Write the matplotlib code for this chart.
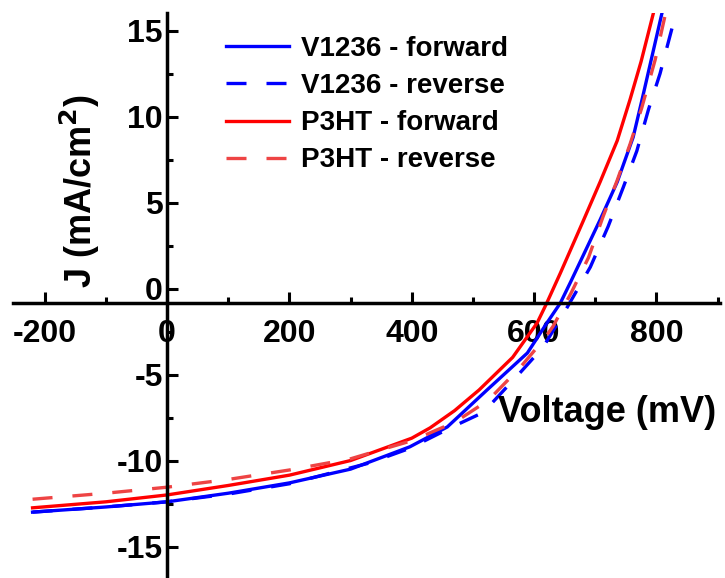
import matplotlib.pyplot as plt
from matplotlib.ticker import MultipleLocator
import numpy as np

plt.rcParams['font.family'] = ['Liberation Sans', 'DejaVu Sans']
plt.rcParams['font.weight'] = 'bold'
plt.rcParams['axes.unicode_minus'] = False

# valores (mV, mA/cm2)
v_v1236_fwd = [-220, -100, 0, 100, 200, 300, 397, 458, 523, 589, 621, 643, 660, 708, 736, 762, 776, 809]
j_v1236_fwd = [-13.0, -12.7, -12.4, -11.9, -11.3, -10.5, -9.2, -8.05, -5.9, -3.75, -2.0, -0.84, 0.4, 4.0, 6.2, 8.8, 10.9, 16.0]

v_v1236_rev = [-220, -100, 0, 100, 200, 330, 396, 466, 517, 577, 615, 654, 692, 721, 746, 768, 787, 806, 826, 832]
j_v1236_rev = [-13.0, -12.7, -12.4, -11.95, -11.35, -10.15, -9.3, -8.05, -7.2, -4.9, -3.4, -1.1, 1.25, 3.6, 5.9, 8.0, 10.4, 12.5, 15.2, 16.0]

v_p3ht_fwd = [-220, -100, 0, 100, 200, 300, 400, 430, 470, 510, 565, 605, 620, 643, 680, 708, 736, 757, 775, 795]
j_p3ht_fwd = [-12.75, -12.4, -12.0, -11.45, -10.85, -10.0, -8.7, -8.1, -7.1, -5.9, -4.0, -2.0, -0.9, 0.9, 3.9, 6.2, 8.6, 11.0, 13.2, 16.0]

v_p3ht_rev = [-220, -100, 0, 100, 200, 300, 347, 400, 471, 525, 577, 615, 631, 660, 689, 713, 736, 757, 776, 798, 815]
j_p3ht_rev = [-12.25, -11.9, -11.55, -11.1, -10.55, -9.9, -9.4, -8.85, -7.76, -6.5, -4.6, -3.0, -2.2, -0.3, 1.8, 4.2, 6.3, 8.4, 10.5, 13.3, 16.0]

fig = plt.figure(figsize=(7.25, 5.78), dpi=100)
ax = fig.add_axes([13/725, 0, 707/725, 565/578])

lw = 2.4
ax.plot(v_v1236_fwd, j_v1236_fwd, color='#0000FF', linewidth=lw, label='V1236 - forward')
ax.plot(v_v1236_rev, j_v1236_rev, color='#0000FF', linewidth=lw, dashes=(6, 6), label='V1236 - reverse')
ax.plot(v_p3ht_fwd, j_p3ht_fwd, color='#FF0000', linewidth=lw, label='P3HT - forward')
ax.plot(v_p3ht_rev, j_p3ht_rev, color='#EE4444', linewidth=lw, dashes=(6, 6), label='P3HT - reverse')

ax.set_xlim(-252, 904)
ax.set_ylim(-16.83, 16.02)

ax.spines['top'].set_visible(False)
ax.spines['right'].set_visible(False)
ax.spines['left'].set_position(('data', 0))
ax.spines['bottom'].set_position(('data', -0.87))
for s in ('left', 'bottom'):
    ax.spines[s].set_linewidth(2.5)

ax.xaxis.set_major_locator(MultipleLocator(200))
ax.xaxis.set_minor_locator(MultipleLocator(100))
ax.yaxis.set_major_locator(MultipleLocator(5))
ax.yaxis.set_minor_locator(MultipleLocator(2.5))
ax.tick_params(which='both', direction='in', width=2.2, labelsize=23)
ax.tick_params(which='major', length=8)
ax.tick_params(which='minor', length=4)
ax.tick_params(axis='x', pad=11)
ax.tick_params(axis='y', pad=3)
for t in ax.get_xticklabels() + ax.get_yticklabels():
    t.set_fontweight('bold')

fig.text(607/725, 1 - 412/578, 'Voltage (mV)', fontsize=26, fontweight='bold',
         ha='center', va='center')
fig.text(80/725, 1 - 191/578, r'J (mA/cm$^\mathbf{2}$)', fontsize=26, fontweight='bold',
         rotation=90, ha='center', va='center')

ax.legend(loc='upper left', bbox_to_anchor=(226/725, 1 - 36/578), bbox_transform=fig.transFigure,
          frameon=False, fontsize=20, handlelength=2.27, handletextpad=0.43,
          labelspacing=0.4, borderpad=0, borderaxespad=0)

fig.savefig('out.png', dpi=100)
